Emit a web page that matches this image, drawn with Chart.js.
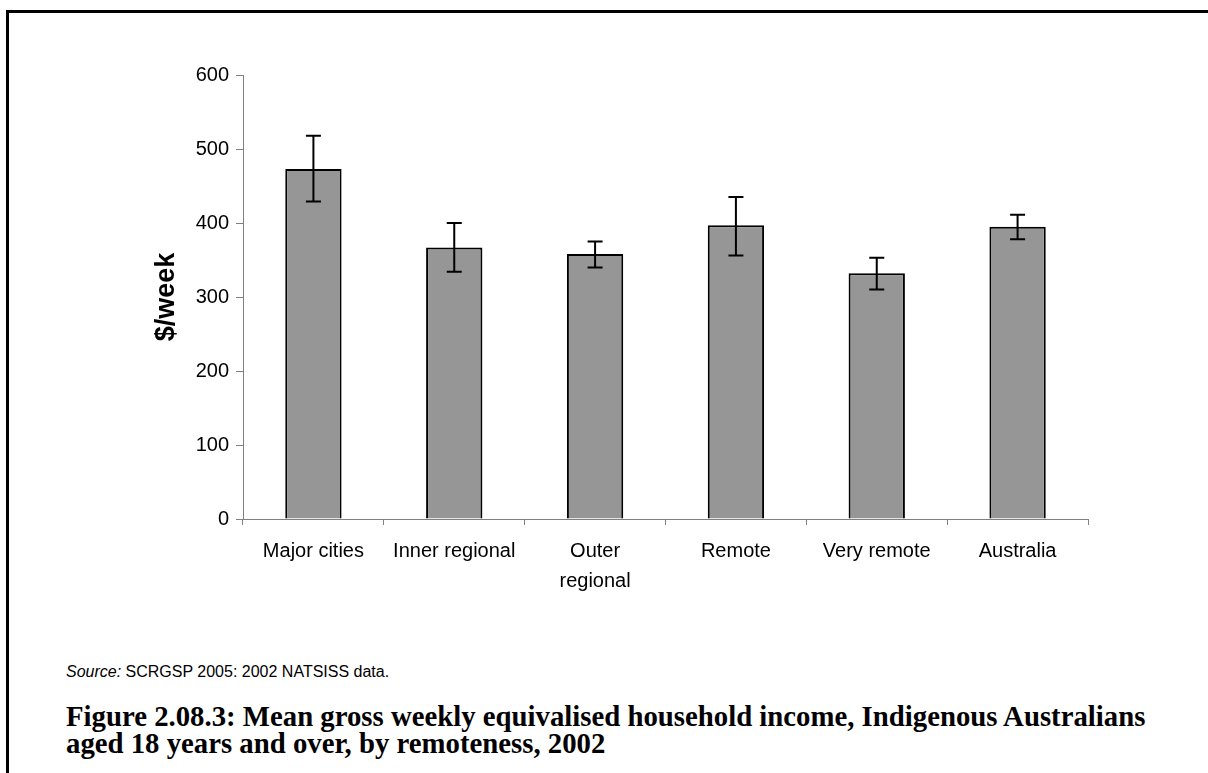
<!DOCTYPE html>
<html>
<head>
<meta charset="utf-8">
<script src="https://cdn.jsdelivr.net/npm/chart.js@4.4.1/dist/chart.umd.min.js"></script>
<style>
  html, body { margin: 0; padding: 0; background: #fff; }
  body { width: 1208px; height: 773px; position: relative; overflow: hidden; }
  #frame {
    position: absolute; left: 6px; top: 10px; width: 1300px; height: 900px;
    border-top: 3px solid #000; border-left: 3px solid #000;
  }
  #chart-box { position: absolute; left: 0; top: 0; width: 1208px; height: 620px; }
  #source {
    position: absolute; left: 66px; top: 663px;
    font-family: "Liberation Sans", Arial, sans-serif; font-size: 16px; color: #000;
  }
  #caption {
    position: absolute; left: 66px; top: 703px;
    font-family: "Liberation Serif", serif; font-weight: bold;
    font-size: 25px; line-height: 27px; color: #000; white-space: nowrap;
  }
</style>
</head>
<body>
<div id="frame"></div>
<div id="chart-box"><canvas id="income-chart"></canvas></div>
<div id="source"><i>Source:</i> SCRGSP 2005: 2002 NATSISS data.</div>
<div id="caption"><span id="cap1">Figure 2.08.3: Mean gross weekly equivalised household income, Indigenous Australians</span><br>aged 18 years and over, by remoteness, 2002</div>
<script>
// Chart data
const categories = ['Major cities', 'Inner regional', ['Outer', 'regional'], 'Remote', 'Very remote', 'Australia'];
const meanIncome = [473, 367, 358, 397, 332, 395];
const errorLow = [429, 334, 340, 356, 310, 378];
const errorHigh = [518, 400, 375, 435, 353, 411];
const yTicks = [0, 100, 200, 300, 400, 500, 600];

// Fit the caption's first line to the width it has in the figure
const cap1 = document.getElementById('cap1');
const caption = document.getElementById('caption');
const capSize = 25 * 1080 / cap1.getBoundingClientRect().width;
caption.style.fontSize = capSize.toFixed(2) + 'px';

// Draw error bars from the data through the scales
const errorBarPlugin = {
  id: 'errorBars',
  afterDatasetsDraw(chart) {
    const ctx = chart.ctx;
    const meta = chart.getDatasetMeta(0);
    const y = chart.scales.y;
    ctx.save();
    ctx.strokeStyle = '#000';
    ctx.lineWidth = 2;
    meta.data.forEach(function(bar, i) {
      const x = bar.x;
      const yHi = y.getPixelForValue(errorHigh[i]);
      const yLo = y.getPixelForValue(errorLow[i]);
      const cap = 7.5;
      ctx.beginPath();
      ctx.moveTo(x, yHi); ctx.lineTo(x, yLo);
      ctx.moveTo(x - cap, yHi); ctx.lineTo(x + cap, yHi);
      ctx.moveTo(x - cap, yLo); ctx.lineTo(x + cap, yLo);
      ctx.stroke();
    });
    ctx.restore();
  }
};

new Chart(document.getElementById('income-chart'), {
  type: 'bar',
  data: {
    labels: categories,
    datasets: [{
      data: meanIncome,
      backgroundColor: '#969696',
      borderColor: '#000',
      borderWidth: 2,
      categoryPercentage: 1,
      barPercentage: 0.4
    }]
  },
  options: {
    responsive: true,
    maintainAspectRatio: false,
    animation: false,
    layout: { padding: { left: 150, right: 120, top: 75, bottom: 13 } },
    plugins: { legend: { display: false }, tooltip: { enabled: false } },
    scales: {
      x: {
        grid: { display: true, offset: true, drawOnChartArea: false, tickLength: 6, color: '#808080' },
        border: { color: '#808080', width: 1 },
        ticks: {
          color: '#000', padding: 11, maxRotation: 0, autoSkip: false,
          font: { family: 'Liberation Sans', size: 20, lineHeight: 1.5 }
        }
      },
      y: {
        min: 0,
        max: 600,
        afterBuildTicks: function(axis) { axis.ticks = yTicks.map(v => ({ value: v })); },
        afterFit: function(axis) { axis.width = 93; },
        grid: { drawOnChartArea: false, tickLength: 7, color: '#808080' },
        border: { color: '#808080', width: 1 },
        ticks: { color: '#000', padding: 7, font: { family: 'Liberation Sans', size: 20 } },
        title: {
          display: true, text: '$/week', color: '#000', padding: 0,
          font: { family: 'Liberation Sans', size: 27, weight: 'bold' }
        }
      }
    }
  },
  plugins: [errorBarPlugin]
});
</script>
</body>
</html>
